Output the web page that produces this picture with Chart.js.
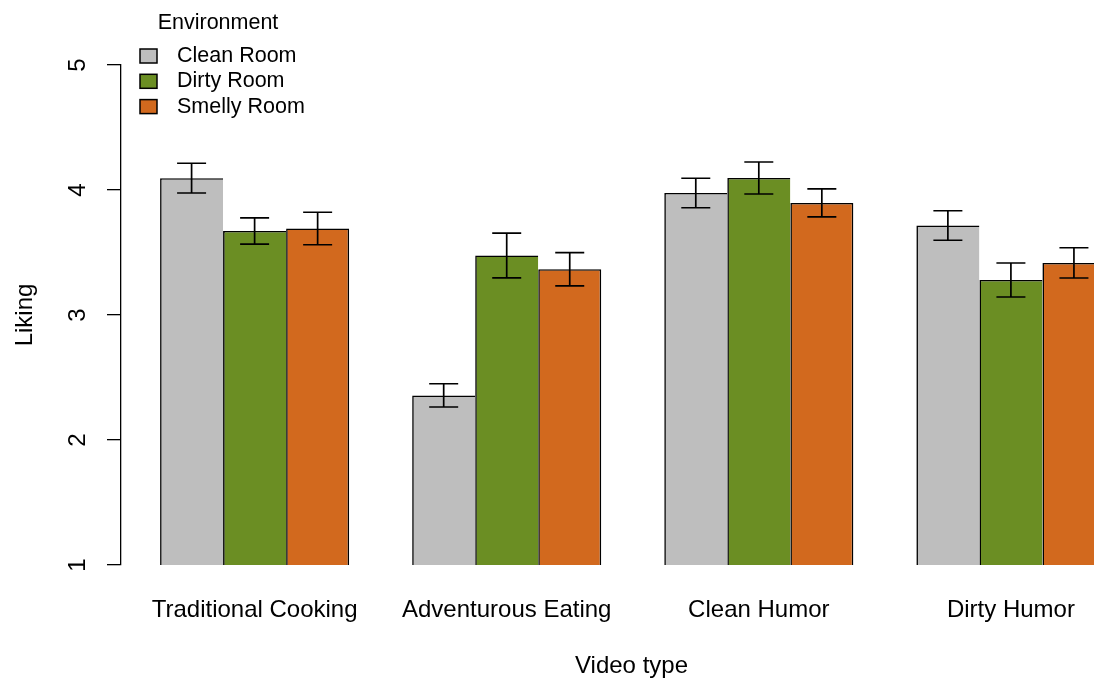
<!DOCTYPE html>
<html>
<head>
<meta charset="utf-8">
<script src="https://cdn.jsdelivr.net/npm/chart.js@4.4.1/dist/chart.umd.min.js"></script>
<style>
  html, body { margin: 0; padding: 0; background: #fff; overflow: hidden; }
  #wrap { position: relative; width: 1160px; height: 679px; }
</style>
</head>
<body>
<div id="wrap"><canvas id="chart"></canvas></div>
<script>
// Mean liking per video type and room, with standard errors
const CATEGORIES = ['Traditional Cooking', 'Adventurous Eating', 'Clean Humor', 'Dirty Humor'];
const ENVIRONMENTS = ['Clean Room', 'Dirty Room', 'Smelly Room'];

const CLEAN_MEAN = [4.095, 2.357, 3.976, 3.716];
const CLEAN_SE = [0.119, 0.093, 0.118, 0.118];
const DIRTY_MEAN = [3.672, 3.476, 4.096, 3.280];
const DIRTY_SE = [0.105, 0.179, 0.128, 0.136];
const SMELLY_MEAN = [3.692, 3.366, 3.897, 3.417];
const SMELLY_SE = [0.130, 0.133, 0.112, 0.121];

const Y_TICKS = [1, 2, 3, 4, 5];

const COLORS = ['#BEBEBE', '#6B8E23', '#D2691E'];
const FONT = "'Liberation Sans', Arial, Helvetica, sans-serif";

Chart.defaults.font.family = FONT;
Chart.defaults.color = '#000';

const means = [CLEAN_MEAN, DIRTY_MEAN, SMELLY_MEAN];
const errors = [CLEAN_SE, DIRTY_SE, SMELLY_SE];

// neighbouring bars share one edge line, so only the last bar gets a right border
const datasets = ENVIRONMENTS.map((name, k) => ({
    label: name,
    data: means[k].map((v, i) => ({ x: i, y: v })),
    se: errors[k],
    backgroundColor: COLORS[k],
    borderColor: '#000',
    borderWidth: k === ENVIRONMENTS.length - 1
        ? { top: 1.6, left: 1.6, right: 1.6, bottom: 0 }
        : { top: 1.6, left: 1.6, right: 0, bottom: 0 },
    borderSkipped: 'start',
    categoryPercentage: 0.75,
    barPercentage: 1.0,
}));

// ── Error bars (mean ± se) ───────────────────────────────
const errorBars = {
    id: 'errorBars',
    afterDatasetsDraw(chart) {
        const { ctx, scales: { y } } = chart;
        const cap = 14.5;
        ctx.save();
        ctx.strokeStyle = '#000';
        ctx.lineWidth = 1.7;
        chart.data.datasets.forEach((ds, k) => {
            const meta = chart.getDatasetMeta(k);
            meta.data.forEach((bar, i) => {
                const m = ds.data[i].y;
                const top = y.getPixelForValue(m + ds.se[i]);
                const bot = y.getPixelForValue(m - ds.se[i]);
                ctx.beginPath();
                ctx.moveTo(bar.x, top); ctx.lineTo(bar.x, bot);
                ctx.moveTo(bar.x - cap, top); ctx.lineTo(bar.x + cap, top);
                ctx.moveTo(bar.x - cap, bot); ctx.lineTo(bar.x + cap, bot);
                ctx.stroke();
            });
        });
        ctx.restore();
    },
};

// ── Legend in the top-left corner ────────────────────────
const roomLegend = {
    id: 'roomLegend',
    afterDraw(chart) {
        const { ctx } = chart;
        ctx.save();
        ctx.font = `21.5px ${FONT}`;
        ctx.fillStyle = '#000';
        ctx.textBaseline = 'middle';
        ctx.textAlign = 'center';
        ctx.fillText('Environment', 218, 23);
        ctx.textAlign = 'left';
        chart.data.datasets.forEach((ds, k) => {
            const cy = 56 + k * 25.3;
            ctx.fillStyle = ds.backgroundColor;
            ctx.fillRect(140, cy - 7, 17, 14);
            ctx.strokeStyle = '#000';
            ctx.lineWidth = 1.5;
            ctx.strokeRect(140, cy - 7, 17, 14);
            ctx.fillStyle = '#000';
            ctx.fillText(ds.label, 177, cy);
        });
        ctx.restore();
    },
};

new Chart(document.getElementById('chart'), {
    type: 'bar',
    data: { datasets },
    options: {
        responsive: true,
        maintainAspectRatio: false,
        animation: false,
        layout: { padding: { top: 65, right: 18, bottom: 0, left: 0 } },
        plugins: { legend: { display: false }, tooltip: { enabled: false } },
        scales: {
            x: {
                type: 'linear',
                offset: false,
                min: -0.53,
                max: 3.52,
                grid: { display: false, drawTicks: false },
                border: { display: false },
                afterBuildTicks: s => { s.ticks = CATEGORIES.map((_, i) => ({ value: i })); },
                afterFit: s => { s.height = 114; },
                ticks: {
                    padding: 31,
                    font: { size: 24 },
                    maxRotation: 0,
                    autoSkip: false,
                    callback: v => CATEGORIES[v] ?? '',
                },
                title: {
                    display: true,
                    text: 'Video type',
                    font: { size: 24, lineHeight: 1 },
                    padding: { top: 0, bottom: 1 },
                },
            },
            y: {
                min: 1,
                max: 5,
                afterBuildTicks: s => { s.ticks = Y_TICKS.map(v => ({ value: v })); },
                afterFit: s => { s.width = 121; },
                grid: { drawOnChartArea: false, tickLength: 14, color: '#000', tickColor: '#000', lineWidth: 1.3 },
                border: { display: true, color: '#000', width: 1.3 },
                ticks: {
                    font: { size: 24 },
                    minRotation: 90,
                    maxRotation: 90,
                    crossAlign: 'center',
                    padding: 22,
                },
                title: {
                    display: true,
                    text: 'Liking',
                    font: { size: 24, lineHeight: 1 },
                    padding: { top: 13, bottom: 0 },
                },
            },
        },
    },
    plugins: [errorBars, roomLegend],
});
</script>
</body>
</html>
